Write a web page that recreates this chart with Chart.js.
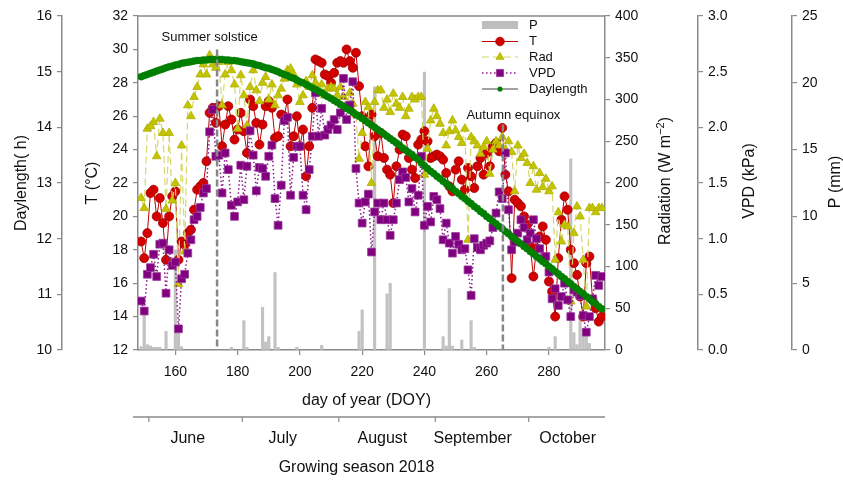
<!DOCTYPE html>
<html>
<head>
<meta charset="utf-8">
<script src="https://cdn.jsdelivr.net/npm/chart.js@4.4.0/dist/chart.umd.min.js"></script>
<style>
  html, body { margin: 0; padding: 0; background: #fff; }
  #wrap { width: 843px; height: 481px; }
</style>
</head>
<body>
<div id="wrap"><canvas id="weatherChart" width="843" height="481"></canvas></div>
<script>
Chart.defaults.font.family = "'Liberation Sans', Arial, Helvetica, sans-serif";
Chart.defaults.color = "#111";

// day of year, one value per day
const doy = [
  149, 150, 151, 152, 153, 154, 155, 156, 157, 158,
  159, 160, 161, 162, 163, 164, 165, 166, 167, 168,
  169, 170, 171, 172, 173, 174, 175, 176, 177, 178,
  179, 180, 181, 182, 183, 184, 185, 186, 187, 188,
  189, 190, 191, 192, 193, 194, 195, 196, 197, 198,
  199, 200, 201, 202, 203, 204, 205, 206, 207, 208,
  209, 210, 211, 212, 213, 214, 215, 216, 217, 218,
  219, 220, 221, 222, 223, 224, 225, 226, 227, 228,
  229, 230, 231, 232, 233, 234, 235, 236, 237, 238,
  239, 240, 241, 242, 243, 244, 245, 246, 247, 248,
  249, 250, 251, 252, 253, 254, 255, 256, 257, 258,
  259, 260, 261, 262, 263, 264, 265, 266, 267, 268,
  269, 270, 271, 272, 273, 274, 275, 276, 277, 278,
  279, 280, 281, 282, 283, 284, 285, 286, 287, 288,
  289, 290, 291, 292, 293, 294, 295, 296, 297
];

// air temperature (°C)
const temperature = [
  18.5, 17.5, 19.0, 21.4, 21.6, 20.0, 21.1, 19.6, 17.4, 20.0,
  21.2, 21.5, 17.4, 18.5, 18.3, 19.0, 19.2, 20.4, 21.6, 21.8,
  22.0, 23.3, 26.2, 26.5, 25.6, 26.6, 24.2, 25.5, 26.6, 25.8,
  24.6, 25.2, 26.2, 25.1, 23.8, 27.0, 26.6, 25.6, 24.3, 25.5,
  26.6, 26.9, 26.5, 24.7, 24.8, 26.1, 26.0, 27.0, 24.2, 24.8,
  26.0, 24.2, 25.2, 22.4, 24.2, 26.5, 29.4, 29.3, 29.2, 28.5,
  28.4, 28.0, 28.6, 29.2, 29.3, 29.2, 30.0, 29.3, 28.9, 29.8,
  27.8, 26.0, 24.2, 23.0, 26.1, 24.8, 23.6, 25.0, 23.5, 22.8,
  22.5, 20.8, 23.0, 24.0, 24.9, 24.8, 23.5, 22.8, 22.3, 24.3,
  24.6, 25.1, 24.5, 23.5, 23.6, 23.7, 23.6, 23.4, 22.6, 21.8,
  21.5, 22.8, 23.3, 22.2, 21.6, 22.9, 22.4, 21.7, 23.0, 23.5,
  22.5, 23.8, 23.0, 24.2, 24.4, 23.9, 25.3, 22.5, 21.5, 16.3,
  21.0, 20.8, 20.6, 20.0, 19.5, 18.2, 16.4, 18.1, 18.8, 19.4,
  18.6, 16.1, 15.5, 14.0, 17.5, 19.8, 21.2, 20.4, 18.0, 17.2,
  16.5, 15.2, 14.0, 17.2, 17.6, 15.0, 14.5, 13.7, 14.0
];

// global radiation (W m-2)
const radiation = [
  182, 170, 265, 268, 273, 232, 277, 260, 169, 260,
  179, 200, 79, 245, 118, 293, 280, 303, 315, 330,
  342, 330, 353, 342, 338, 345, 293, 330, 345, 335,
  318, 265, 329, 305, 269, 315, 335, 311, 298, 320,
  327, 300, 318, 293, 305, 313, 325, 335, 337, 330,
  318, 297, 305, 322, 315, 329, 320, 310, 318, 305,
  313, 315, 313, 305, 315, 303, 290, 308, 295, 282,
  229, 260, 297, 291, 200, 297, 311, 311, 290, 300,
  285, 307, 295, 290, 303, 280, 289, 303, 300, 303,
  303, 210, 241, 275, 289, 280, 271, 260, 245, 262,
  275, 263, 255, 248, 265, 132, 255, 250, 245, 235,
  243, 250, 211, 240, 250, 245, 255, 240, 250, 237,
  190, 245, 230, 235, 224, 200, 220, 192, 212, 195,
  205, 190, 196, 108, 165, 130, 150, 148, 58, 140,
  172, 160, 108, 52, 170, 170, 165, 170, 170
];

// vapour pressure deficit (kPa)
const vpd = [
  0.44, 0.35, 0.68, 0.74, 0.86, 0.66, 0.95, 0.96, 0.51, 0.90,
  0.76, 0.79, 0.19, 0.64, 0.68, 0.87, 0.99, 1.17, 1.20, 1.28,
  1.41, 1.45, 1.96, 2.16, 1.74, 1.75, 1.41, 1.77, 1.62, 1.30,
  1.20, 1.33, 1.66, 1.35, 1.65, 1.97, 1.75, 1.43, 1.64, 1.63,
  1.56, 1.74, 1.84, 1.36, 1.12, 1.48, 2.06, 2.09, 1.39, 1.73,
  1.83, 1.83, 1.39, 1.26, 1.62, 1.92, 2.31, 1.92, 2.17, 1.93,
  1.98, 2.02, 2.07, 1.98, 2.13, 2.44, 2.07, 2.20, 2.41, 1.63,
  1.32, 1.14, 1.33, 1.40, 0.88, 1.24, 1.32, 1.17, 1.32, 1.17,
  1.03, 1.17, 1.32, 1.53, 1.60, 1.55, 1.33, 1.45, 1.24, 1.39,
  1.74, 1.12, 1.29, 1.15, 1.38, 1.35, 1.27, 0.99, 1.14, 0.96,
  0.87, 1.02, 0.95, 0.90, 0.91, 0.72, 0.49, 1.00, 0.92, 0.90,
  0.94, 0.96, 0.98, 1.10, 1.23, 1.42, 1.36, 1.77, 1.26, 0.90,
  0.97, 1.05, 1.17, 1.10, 0.99, 1.05, 1.17, 1.00, 0.91, 0.82,
  0.84, 0.70, 0.46, 0.55, 0.40, 0.48, 0.60, 0.45, 0.30, 0.54,
  0.52, 0.49, 0.31, 0.16, 0.30, 0.46, 0.67, 0.58, 0.66
];

// daylength (h)
const daylength = [
  14.91, 14.93, 14.95, 14.97, 14.99, 15.01, 15.03, 15.05, 15.07, 15.09,
  15.10, 15.12, 15.13, 15.15, 15.16, 15.17, 15.18, 15.19, 15.20, 15.20,
  15.21, 15.21, 15.22, 15.22, 15.22, 15.22, 15.22, 15.21, 15.21, 15.20,
  15.20, 15.19, 15.18, 15.17, 15.16, 15.15, 15.14, 15.12, 15.11, 15.09,
  15.07, 15.06, 15.04, 15.02, 15.00, 14.97, 14.95, 14.93, 14.90, 14.88,
  14.85, 14.82, 14.80, 14.77, 14.74, 14.71, 14.68, 14.65, 14.62, 14.58,
  14.55, 14.52, 14.48, 14.45, 14.41, 14.38, 14.34, 14.31, 14.27, 14.23,
  14.20, 14.16, 14.12, 14.08, 14.04, 14.00, 13.96, 13.92, 13.88, 13.84,
  13.80, 13.76, 13.72, 13.68, 13.63, 13.59, 13.55, 13.51, 13.46, 13.42,
  13.36, 13.31, 13.26, 13.21, 13.17, 13.12, 13.08, 13.03, 12.99, 12.94,
  12.90, 12.85, 12.81, 12.76, 12.72, 12.67, 12.63, 12.58, 12.54, 12.49,
  12.45, 12.40, 12.36, 12.31, 12.27, 12.22, 12.18, 12.13, 12.09, 12.04,
  12.00, 11.95, 11.91, 11.86, 11.82, 11.77, 11.73, 11.68, 11.64, 11.59,
  11.55, 11.50, 11.46, 11.41, 11.37, 11.32, 11.28, 11.23, 11.19, 11.14,
  11.10, 11.05, 11.01, 10.96, 10.92, 10.87, 10.83, 10.78, 10.74
];

// precipitation (mm), rainy days only
const rainDoy = [149, 150, 151, 152, 153, 154, 155, 157, 160, 161, 162, 178, 182, 183, 188, 189, 190, 192, 193, 199, 207, 219, 220, 224, 228, 229, 240, 246, 247, 248, 249, 252, 255, 256, 280, 282, 287, 288, 289, 290, 291, 292, 293];
const rain = [0.25, 3.2, 0.4, 0.3, 0.2, 0.2, 0.2, 1.4, 7.5, 1.3, 0.25, 0.2, 2.2, 0.2, 3.2, 0.6, 1.0, 5.8, 0.2, 0.2, 0.35, 1.4, 3.0, 19.7, 4.2, 5.0, 20.8, 1.0, 0.3, 4.6, 0.3, 0.75, 2.2, 0.2, 0.2, 1.0, 14.3, 1.3, 0.4, 2.6, 1.6, 1.3, 0.5];

const doyTicks = [160, 180, 200, 220, 240, 260, 280];
const monthNames = ["June", "July", "August", "September", "October"];
const monthStarts = [151.5, 181.5, 212.5, 243.5, 273.5];
const monthCentres = [164, 194.5, 226.5, 255.5, 286];
const solstice = 173.4;
const equinox = 265.2;

const axisColor = "#8a8a8a";
const pts = (ys) => doy.map((d, i) => ({ x: d, y: ys[i] }));

function yAxis(position, weight, min, max, step, width, fmt) {
  return {
    type: "linear",
    position: position,
    weight: weight,
    min: min,
    max: max,
    border: { display: true, color: axisColor, width: 1.5 },
    grid: { display: true, drawOnChartArea: false, drawTicks: true, tickLength: 5, color: axisColor, lineWidth: 1.2 },
    ticks: { stepSize: step, padding: 5, color: "#111", font: { size: 14 }, callback: fmt || ((v) => v) },
    afterFit: (s) => { s.width = width; },
  };
}

function marker(ctx, style, x, y, r, fill, stroke) {
  ctx.beginPath();
  if (style === "circle") {
    ctx.arc(x, y, r, 0, Math.PI * 2);
  } else if (style === "triangle") {
    ctx.moveTo(x, y - r);
    ctx.lineTo(x + r * 0.866, y + r * 0.5);
    ctx.lineTo(x - r * 0.866, y + r * 0.5);
    ctx.closePath();
  } else {
    ctx.rect(x - r, y - r, 2 * r, 2 * r);
  }
  ctx.fillStyle = fill;
  ctx.fill();
  if (stroke) {
    ctx.strokeStyle = stroke;
    ctx.lineWidth = 0.8;
    ctx.stroke();
  }
}

// rotated (-90°) axis title, parts may carry a superscript
function sideTitle(ctx, parts, cx, cy) {
  ctx.save();
  ctx.translate(cx, cy);
  ctx.rotate(-Math.PI / 2);
  ctx.textBaseline = "middle";
  ctx.textAlign = "left";
  ctx.fillStyle = "#111";
  let total = 0;
  parts.forEach((p) => {
    ctx.font = (p.size || 16) + "px 'Liberation Sans', Arial, sans-serif";
    p.w = ctx.measureText(p.text).width;
    total += p.w;
  });
  let x = -total / 2;
  parts.forEach((p) => {
    ctx.font = (p.size || 16) + "px 'Liberation Sans', Arial, sans-serif";
    ctx.fillText(p.text, x, p.dy || 0);
    x += p.w;
  });
  ctx.restore();
}

const extras = {
  id: "extras",
  afterDatasetsDraw(chart) {
    const { ctx, chartArea: a, scales } = chart;
    const x = scales.x, t = scales.t;
    ctx.save();
    ctx.strokeStyle = "#878787";
    ctx.lineWidth = 2.5;
    ctx.setLineDash([7, 3]);
    [[solstice, 30], [equinox, 25.5]].forEach(([d, top]) => {
      const px = x.getPixelForValue(d);
      ctx.beginPath();
      ctx.moveTo(px, t.getPixelForValue(top));
      ctx.lineTo(px, a.bottom);
      ctx.stroke();
    });
    ctx.restore();
  },
  afterDraw(chart) {
    const { ctx, chartArea: a, scales } = chart;
    const x = scales.x;
    const font = (s) => s + "px 'Liberation Sans', Arial, sans-serif";

    // top frame line
    ctx.save();
    ctx.strokeStyle = axisColor;
    ctx.lineWidth = 1.5;
    ctx.beginPath();
    ctx.moveTo(a.left, a.top);
    ctx.lineTo(a.right, a.top);
    ctx.stroke();

    // annotations
    ctx.fillStyle = "#111";
    ctx.font = font(13);
    ctx.textAlign = "center";
    ctx.textBaseline = "middle";
    ctx.fillText("Summer solstice", x.getPixelForValue(solstice) - 7.5, 37);
    ctx.fillText("Autumn equinox", x.getPixelForValue(equinox) + 10.5, 115);

    // axis titles
    sideTitle(ctx, [{ text: "Daylength( h)" }], 22, 183);
    sideTitle(ctx, [{ text: "T (°C)" }], 93, 183);
    sideTitle(ctx, [{ text: "Radiation (W m" }, { text: "−2", size: 11, dy: -5 }, { text: ")" }], 666, 181);
    sideTitle(ctx, [{ text: "VPD (kPa)" }], 750, 181);
    sideTitle(ctx, [{ text: "P (mm)" }], 836, 182);

    ctx.font = font(16);
    ctx.textAlign = "center";
    ctx.fillText("day of year (DOY)", (a.left + a.right) / 2 - 5, 401);

    // month axis
    const my = a.bottom + 67;
    ctx.strokeStyle = axisColor;
    ctx.lineWidth = 1.5;
    ctx.beginPath();
    ctx.moveTo(a.left - 5, my);
    ctx.lineTo(a.right, my);
    ctx.stroke();
    ctx.lineWidth = 1.2;
    monthStarts.forEach((d) => {
      const px = x.getPixelForValue(d);
      ctx.beginPath();
      ctx.moveTo(px, my);
      ctx.lineTo(px, my + 5);
      ctx.stroke();
    });
    ctx.fillStyle = "#111";
    monthNames.forEach((m, i) => {
      ctx.fillText(m, x.getPixelForValue(monthCentres[i]), 439);
    });
    ctx.fillText("Growing season 2018", (a.left + a.right) / 2 - 15, 468);

    // legend
    const lx0 = 482, lx1 = 518, lxc = 500, tx = 529;
    const rows = [25, 41.5, 57, 73, 89];
    ctx.textAlign = "left";
    ctx.font = font(13);
    ctx.fillStyle = "#bebebe";
    ctx.fillRect(lx0, rows[0] - 4, lx1 - lx0, 8);
    const line = (y, color, width, dash) => {
      ctx.save();
      ctx.strokeStyle = color;
      ctx.lineWidth = width;
      ctx.setLineDash(dash);
      ctx.beginPath();
      ctx.moveTo(lx0, y);
      ctx.lineTo(lx1, y);
      ctx.stroke();
      ctx.restore();
    };
    line(rows[1], "#c00000", 1, []);
    marker(ctx, "circle", lxc, rows[1], 4.3, "#d40000", "#a00000");
    line(rows[2], "#d6d66a", 1.2, [7, 4]);
    marker(ctx, "triangle", lxc, rows[2], 4.6, "#c4c400", "#b0b000");
    line(rows[3], "#8b1a8b", 1.5, [1.5, 2.5]);
    marker(ctx, "rect", lxc, rows[3], 3.6, "#800080", "#9a3a9a");
    line(rows[4], "#444", 1, []);
    marker(ctx, "circle", lxc, rows[4], 2.6, "#008000", null);
    ctx.fillStyle = "#111";
    ["P", "T", "Rad", "VPD", "Daylength"].forEach((s, i) => ctx.fillText(s, tx, rows[i]));
    ctx.restore();
  },
};

new Chart(document.getElementById("weatherChart"), {
  type: "line",
  data: {
    datasets: [
      {
        type: "bar",
        label: "P",
        data: rainDoy.map((d, i) => ({ x: d, y: rain[i] })),
        yAxisID: "p",
        backgroundColor: "#c2c2c2",
        barThickness: 2.5,
        grouped: false,
        order: 4,
      },
      {
        label: "T",
        data: pts(temperature),
        yAxisID: "t",
        borderColor: "#c00000",
        borderWidth: 1,
        pointStyle: "circle",
        pointRadius: 4.5,
        pointBackgroundColor: "#d40000",
        pointBorderColor: "#a00000",
        pointBorderWidth: 0.8,
        order: 3,
      },
      {
        label: "Rad",
        data: pts(radiation),
        yAxisID: "rad",
        borderColor: "#d6d66a",
        borderWidth: 1.2,
        borderDash: [7, 4],
        pointStyle: "triangle",
        pointRadius: 5,
        pointBackgroundColor: "#c4c400",
        pointBorderColor: "#b0b000",
        pointBorderWidth: 0.8,
        order: 2,
      },
      {
        label: "VPD",
        data: pts(vpd),
        yAxisID: "vpd",
        borderColor: "#8b1a8b",
        borderWidth: 1.5,
        borderDash: [1.5, 2.5],
        pointStyle: "rect",
        pointRadius: 5.5,
        pointBackgroundColor: "#800080",
        pointBorderColor: "#9a3a9a",
        pointBorderWidth: 0.8,
        order: 1,
      },
      {
        label: "Daylength",
        data: pts(daylength),
        yAxisID: "dl",
        borderColor: "#006000",
        borderWidth: 1,
        pointStyle: "circle",
        pointRadius: 3.5,
        pointBackgroundColor: "#008000",
        pointBorderColor: "#007a00",
        pointBorderWidth: 0.5,
        order: 0,
      },
    ],
  },
  options: {
    responsive: false,
    animation: false,
    devicePixelRatio: 1,
    layout: { padding: { top: 16, left: 0, right: 0, bottom: 0 } },
    elements: { line: { tension: 0 } },
    plugins: { legend: { display: false }, tooltip: { enabled: false } },
    scales: {
      x: {
        type: "linear",
        position: "bottom",
        min: 148,
        max: 298,
        offset: false,
        border: { display: true, color: axisColor, width: 1.5 },
        grid: { display: true, offset: false, drawOnChartArea: false, drawTicks: true, tickLength: 5, color: axisColor, lineWidth: 1.2 },
        ticks: { padding: 9, color: "#111", font: { size: 14 } },
        afterBuildTicks: (s) => { s.ticks = doyTicks.map((v) => ({ value: v })); },
        afterFit: (s) => { s.height = 131; },
      },
      t: yAxis("left", 0, 12, 32, 2, 76),
      dl: yAxis("left", 1, 10, 16, 1, 62),
      rad: yAxis("right", 0, 0, 400, 50, 93),
      vpd: yAxis("right", 1, 0, 3, 0.5, 94, (v) => v.toFixed(1)),
      p: yAxis("right", 2, 0, 25, 5, 51),
    },
  },
  plugins: [extras],
});
</script>
</body>
</html>
